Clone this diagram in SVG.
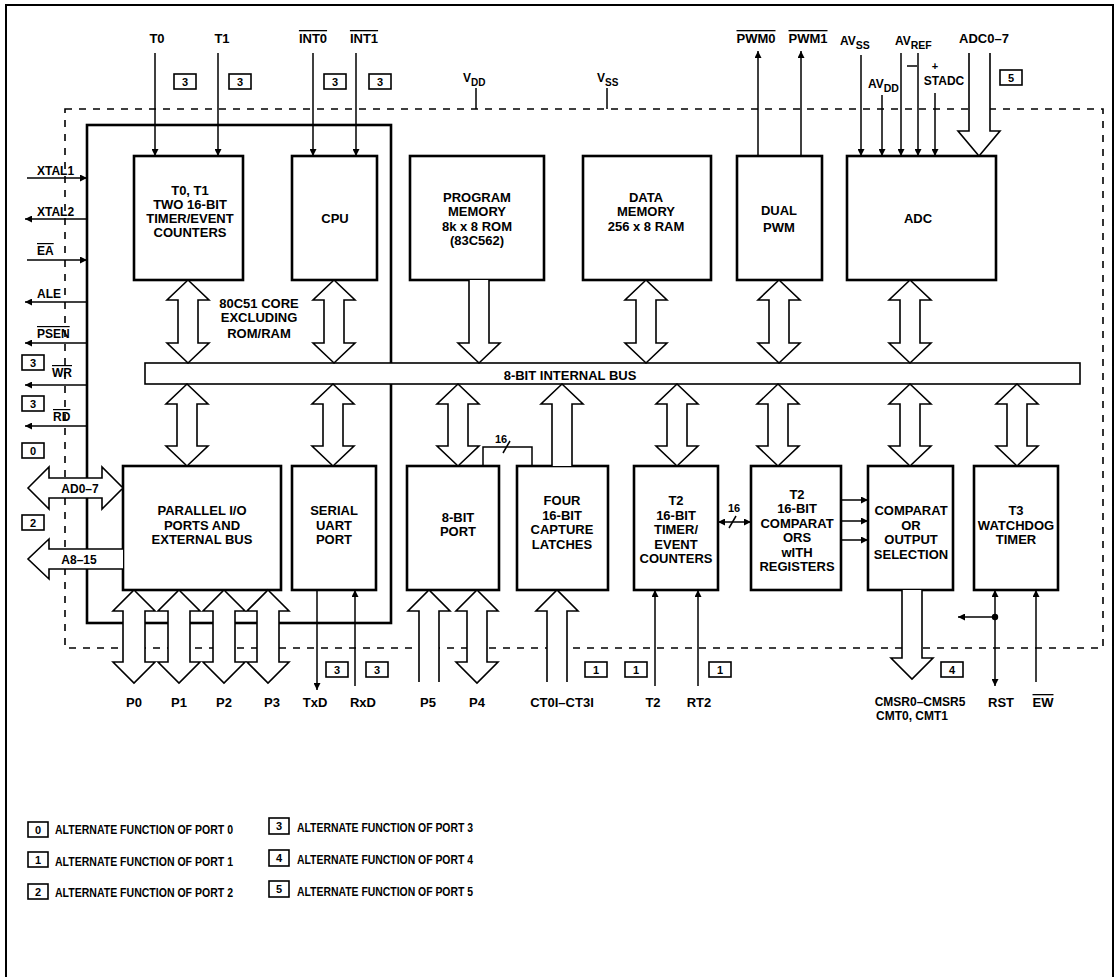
<svg xmlns="http://www.w3.org/2000/svg" width="1119" height="977" viewBox="0 0 1119 977">
<defs>
<style>
text{font-family:"Liberation Sans",Arial,sans-serif;font-weight:bold;fill:#000}
.t{font-size:13px;text-anchor:middle}
.s{font-size:12px}
.m{font-size:12px;text-anchor:middle}
.box{fill:#fff;stroke:#000;stroke-width:2.6}
.hol{fill:#fff;stroke:#000;stroke-width:1.6;stroke-linejoin:miter}
.ln{fill:none;stroke:#000;stroke-width:1.5}
.arr{fill:none;stroke:#000;stroke-width:1.5;marker-end:url(#ah)}
.arr2{fill:none;stroke:#000;stroke-width:1.5;marker-end:url(#ah);marker-start:url(#ah)}
.dash{fill:none;stroke:#000;stroke-width:1.6;stroke-dasharray:7 7}
.lb rect{fill:#fff;stroke:#000;stroke-width:1.6}
.lb text{font-size:11px;text-anchor:middle}
.ov{text-decoration:overline}
.lg{font-size:12.5px}
</style>
<marker id="ah" viewBox="0 0 10 10" refX="10" refY="5" markerWidth="9" markerHeight="7" orient="auto-start-reverse" markerUnits="userSpaceOnUse"><path d="M0 0 L10 5 L0 10 Z" fill="#000"/></marker>
</defs>
<rect width="1119" height="977" fill="#fff"/>
<rect x="6" y="5" width="1107" height="1000" fill="none" stroke="#000" stroke-width="2"/>

<g id="chip-boundary">
<rect x="65" y="109" width="1038" height="539" class="dash"/>
</g>
<g id="core">
<rect x="87" y="125" width="304" height="498" fill="none" stroke="#000" stroke-width="2.6"/>
<text class="t" x="259" y="308">80C51 CORE</text>
<text class="t" x="259" y="322">EXCLUDING</text>
<text class="t" x="259" y="338">ROM/RAM</text>
</g>

<g id="timers01"><rect class="box" x="134" y="156" width="109" height="124"/>
<text class="t" x="190" y="195">T0, T1</text><text class="t" x="190" y="209">TWO 16-BIT</text><text class="t" x="190" y="223">TIMER/EVENT</text><text class="t" x="190" y="237">COUNTERS</text></g>
<g id="cpu"><rect class="box" x="292" y="156" width="85" height="124"/><text class="t" x="335" y="223">CPU</text></g>
<g id="progmem"><rect class="box" x="410" y="156" width="134" height="124"/>
<text class="t" x="477" y="202">PROGRAM</text><text class="t" x="477" y="216">MEMORY</text><text class="t" x="477" y="231">8k x 8 ROM</text><text class="t" x="477" y="245">(83C562)</text></g>
<g id="datamem"><rect class="box" x="583" y="156" width="128" height="124"/>
<text class="t" x="646" y="202">DATA</text><text class="t" x="646" y="216">MEMORY</text><text class="t" x="646" y="231">256 x 8 RAM</text></g>
<g id="pwm"><rect class="box" x="737" y="156" width="85" height="124"/>
<text class="t" x="779" y="215">DUAL</text><text class="t" x="779" y="232">PWM</text></g>
<g id="adc"><rect class="box" x="847" y="156" width="149" height="124"/><text class="t" x="918" y="223">ADC</text></g>

<g id="bus"><rect x="145" y="363" width="935" height="21" fill="#fff" stroke="#000" stroke-width="1.6"/>
<text class="t" x="570" y="380">8-BIT INTERNAL BUS</text></g>

<g id="parallel"><rect class="box" x="123" y="466" width="158" height="124"/>
<text class="t" x="202" y="515">PARALLEL I/O</text><text class="t" x="202" y="530">PORTS AND</text><text class="t" x="202" y="544">EXTERNAL BUS</text></g>
<g id="serial"><rect class="box" x="292" y="466" width="84" height="124"/>
<text class="t" x="334" y="515">SERIAL</text><text class="t" x="334" y="530">UART</text><text class="t" x="334" y="544">PORT</text></g>
<g id="port8"><rect class="box" x="407" y="466" width="92" height="124"/>
<text class="t" x="458" y="522">8-BIT</text><text class="t" x="458" y="536">PORT</text></g>
<g id="capture"><rect class="box" x="517" y="466" width="91" height="124"/>
<text class="t" x="562" y="505">FOUR</text><text class="t" x="562" y="520">16-BIT</text><text class="t" x="562" y="534">CAPTURE</text><text class="t" x="562" y="549">LATCHES</text></g>
<g id="t2timer"><rect class="box" x="634" y="466" width="84" height="124"/>
<text class="t" x="676" y="505">T2</text><text class="t" x="676" y="520">16-BIT</text><text class="t" x="676" y="534">TIMER/</text><text class="t" x="676" y="549">EVENT</text><text class="t" x="676" y="563">COUNTERS</text></g>
<g id="t2comp"><rect class="box" x="751" y="466" width="90" height="124"/>
<text class="t" x="797" y="499">T2</text><text class="t" x="797" y="513">16-BIT</text><text class="t" x="797" y="528">COMPARAT</text><text class="t" x="797" y="542">ORS</text><text class="t" x="797" y="557">wITH</text><text class="t" x="797" y="571">REGISTERS</text></g>
<g id="compout"><rect class="box" x="868" y="466" width="85" height="124"/>
<text class="t" x="911" y="515">COMPARAT</text><text class="t" x="911" y="530">OR</text><text class="t" x="911" y="544">OUTPUT</text><text class="t" x="911" y="559">SELECTION</text></g>
<g id="t3"><rect class="box" x="974" y="466" width="84" height="124"/>
<text class="t" x="1016" y="515">T3</text><text class="t" x="1016" y="530">WATCHDOG</text><text class="t" x="1016" y="544">TIMER</text></g>

<g id="connectors">
<path class="hol" d="M188 280 L209 300 L198 300 L198 343 L209 343 L188 363 L167 343 L178 343 L178 300 L167 300 Z"/>
<path class="hol" d="M334 280 L355 300 L344 300 L344 343 L355 343 L334 363 L313 343 L324 343 L324 300 L313 300 Z"/>
<path class="hol" d="M469 280 L469 343 L458 343 L479 363 L500 343 L489 343 L489 280"/>
<path class="hol" d="M646 280 L667 300 L656 300 L656 343 L667 343 L646 363 L625 343 L636 343 L636 300 L625 300 Z"/>
<path class="hol" d="M779 280 L800 300 L789 300 L789 343 L800 343 L779 363 L758 343 L769 343 L769 300 L758 300 Z"/>
<path class="hol" d="M910 280 L931 300 L920 300 L920 343 L931 343 L910 363 L889 343 L900 343 L900 300 L889 300 Z"/>
<path class="hol" d="M187 384 L208 404 L197 404 L197 446 L208 446 L187 466 L166 446 L177 446 L177 404 L166 404 Z"/>
<path class="hol" d="M333 384 L354 404 L343 404 L343 446 L354 446 L333 466 L312 446 L323 446 L323 404 L312 404 Z"/>
<path class="hol" d="M458 384 L479 404 L468 404 L468 446 L479 446 L458 466 L437 446 L448 446 L448 404 L437 404 Z"/>
<path class="hol" d="M552 466 L552 404 L541 404 L562 384 L583 404 L572 404 L572 466"/>
<path class="hol" d="M677 384 L698 404 L687 404 L687 446 L698 446 L677 466 L656 446 L667 446 L667 404 L656 404 Z"/>
<path class="hol" d="M778 384 L799 404 L788 404 L788 446 L799 446 L778 466 L757 446 L768 446 L768 404 L757 404 Z"/>
<path class="hol" d="M910 384 L931 404 L920 404 L920 446 L931 446 L910 466 L889 446 L900 446 L900 404 L889 404 Z"/>
<path class="hol" d="M1017 384 L1038 404 L1027 404 L1027 446 L1038 446 L1017 466 L996 446 L1007 446 L1007 404 L996 404 Z"/>
<path class="hol" d="M134 590 L155 611 L145 611 L145 662 L155 662 L134 683 L113 662 L123 662 L123 611 L113 611 Z"/>
<path class="hol" d="M179 590 L200 611 L190 611 L190 662 L200 662 L179 683 L158 662 L168 662 L168 611 L158 611 Z"/>
<path class="hol" d="M224 590 L245 611 L235 611 L235 662 L245 662 L224 683 L203 662 L213 662 L213 611 L203 611 Z"/>
<path class="hol" d="M268 590 L289 611 L279 611 L279 662 L289 662 L268 683 L247 662 L257 662 L257 611 L247 611 Z"/>
<path class="hol" d="M419 682 L419 611 L408 611 L429 590 L450 611 L439 611 L439 682"/>
<path class="hol" d="M477 590 L498 611 L487 611 L487 662 L498 662 L477 683 L456 662 L467 662 L467 611 L456 611 Z"/>
<path class="hol" d="M547 682 L547 611 L536 611 L557 590 L578 611 L567 611 L567 682"/>
<path class="hol" d="M902 590 L902 658 L891 658 L912 679 L933 658 L922 658 L922 590"/>
<path class="hol" d="M28 488 L49 467 L49 478 L102 478 L102 467 L123 488 L102 509 L102 498 L49 498 L49 509 Z"/>
<path class="hol" d="M123 549 L49 549 L49 539 L28 559 L49 579 L49 569 L123 569"/>
<path class="hol" d="M969 53 L969 131 L958 131 L979 156 L1000 131 L990 131 L990 53"/>
<line class="arr" x1="155" y1="53" x2="155" y2="156"/>
<line class="arr" x1="218" y1="53" x2="218" y2="156"/>
<line class="arr" x1="313" y1="53" x2="313" y2="156"/>
<line class="arr" x1="356" y1="53" x2="356" y2="156"/>
<line class="ln" x1="476" y1="88" x2="476" y2="109"/>
<line class="ln" x1="607" y1="88" x2="607" y2="109"/>
<line class="arr" x1="758" y1="156" x2="758" y2="51"/>
<line class="arr" x1="801" y1="156" x2="801" y2="51"/>
<line class="arr" x1="861" y1="55" x2="861" y2="156"/>
<line class="arr" x1="882" y1="95" x2="882" y2="156"/>
<line class="arr" x1="901" y1="53" x2="901" y2="156"/>
<line class="arr" x1="918" y1="53" x2="918" y2="156"/>
<line class="ln" x1="907" y1="66" x2="917" y2="66"/>
<line class="arr" x1="935" y1="93" x2="935" y2="156"/>
<line class="arr" x1="27" y1="178" x2="87" y2="178"/>
<line class="arr" x1="87" y1="219" x2="25" y2="219"/>
<line class="arr" x1="27" y1="260" x2="87" y2="260"/>
<line class="arr" x1="87" y1="302" x2="25" y2="302"/>
<line class="arr" x1="87" y1="343" x2="25" y2="343"/>
<line class="arr" x1="87" y1="385" x2="25" y2="385"/>
<line class="arr" x1="87" y1="426" x2="25" y2="426"/>
<polyline class="ln" points="483,466 483,447 532,447 532,466"/>
<line class="ln" x1="503" y1="453" x2="510" y2="441"/>
<line class="arr2" x1="718" y1="522" x2="751" y2="522"/>
<line class="ln" x1="729" y1="528" x2="736" y2="516"/>
<line class="arr" x1="841" y1="500" x2="868" y2="500"/>
<line class="arr" x1="841" y1="521" x2="868" y2="521"/>
<line class="arr" x1="841" y1="540" x2="868" y2="540"/>
<line class="arr" x1="317" y1="590" x2="317" y2="690"/>
<line class="arr" x1="355" y1="686" x2="355" y2="590"/>
<line class="arr" x1="655" y1="686" x2="655" y2="590"/>
<line class="arr" x1="698" y1="686" x2="698" y2="590"/>
<line class="arr2" x1="995" y1="686" x2="995" y2="590"/>
<circle cx="995" cy="617" r="3.2" fill="#000"/>
<line class="arr" x1="995" y1="617" x2="958" y2="617"/>
<line class="arr" x1="1036" y1="682" x2="1036" y2="590"/>
</g>

<g id="signal-labels">
<text class="t" x="157" y="43">T0</text>
<text class="t" x="222" y="43">T1</text>
<text class="t ov" x="313" y="43">INT0</text>
<text class="t ov" x="364" y="43">INT1</text>
<text class="s" x="463" y="82">V<tspan font-size="10" dy="4">DD</tspan></text>
<text class="s" x="597" y="82">V<tspan font-size="10" dy="4">SS</tspan></text>
<text class="t ov" x="756" y="43">PWM0</text>
<text class="t ov" x="808" y="43">PWM1</text>
<text class="s" x="840" y="45">AV<tspan font-size="10.5" dy="4">SS</tspan></text>
<text class="s" x="868" y="88">AV<tspan font-size="10.5" dy="4">DD</tspan></text>
<text class="s" x="895" y="45">AV<tspan font-size="10.5" dy="4">REF</tspan></text>
<text font-size="11" text-anchor="middle" x="935" y="70">+</text>
<text class="m" x="944" y="85">STADC</text>
<text class="t" x="984" y="43">ADC0–7</text>
<text class="s" x="37" y="175">XTAL1</text>
<text class="s" x="37" y="216">XTAL2</text>
<text class="s ov" x="37" y="255">EA</text>
<text class="s" x="37" y="298">ALE</text>
<text class="s ov" x="37" y="338">PSEN</text>
<text class="s ov" x="52" y="377">WR</text>
<text class="s ov" x="53" y="421">RD</text>
<text class="m" x="80" y="493">AD0–7</text>
<text class="m" x="79" y="564">A8–15</text>
<text font-size="11" x="495" y="443">16</text>
<text font-size="11" text-anchor="middle" x="734" y="512">16</text>
<text class="t" x="134" y="707">P0</text>
<text class="t" x="179" y="707">P1</text>
<text class="t" x="224" y="707">P2</text>
<text class="t" x="272" y="707">P3</text>
<text class="t" x="315" y="707">TxD</text>
<text class="t" x="363" y="707">RxD</text>
<text class="t" x="428" y="707">P5</text>
<text class="t" x="477" y="707">P4</text>
<text class="t" x="562" y="707">CT0I–CT3I</text>
<text class="t" x="653" y="707">T2</text>
<text class="t" x="699" y="707">RT2</text>
<text class="m" x="920" y="706">CMSR0–CMSR5</text>
<text class="m" x="912" y="720">CMT0, CMT1</text>
<text class="t" x="1001" y="707">RST</text>
<text class="t ov" x="1043" y="707">EW</text>
</g>

<g id="port-tags">
<g class="lb"><rect x="174" y="74" width="22" height="15"/><text x="185" y="86">3</text></g>
<g class="lb"><rect x="229" y="74" width="22" height="15"/><text x="240" y="86">3</text></g>
<g class="lb"><rect x="324" y="74" width="22" height="15"/><text x="335" y="86">3</text></g>
<g class="lb"><rect x="369" y="74" width="22" height="15"/><text x="380" y="86">3</text></g>
<g class="lb"><rect x="1000" y="70" width="22" height="15"/><text x="1011" y="82">5</text></g>
<g class="lb"><rect x="22" y="355" width="22" height="15"/><text x="33" y="367">3</text></g>
<g class="lb"><rect x="22" y="396" width="22" height="15"/><text x="33" y="408">3</text></g>
<g class="lb"><rect x="22" y="443" width="22" height="15"/><text x="33" y="455">0</text></g>
<g class="lb"><rect x="22" y="515" width="22" height="15"/><text x="33" y="527">2</text></g>
<g class="lb"><rect x="326" y="662" width="22" height="15"/><text x="337" y="674">3</text></g>
<g class="lb"><rect x="366" y="662" width="22" height="15"/><text x="377" y="674">3</text></g>
<g class="lb"><rect x="585" y="662" width="22" height="15"/><text x="596" y="674">1</text></g>
<g class="lb"><rect x="625" y="662" width="22" height="15"/><text x="636" y="674">1</text></g>
<g class="lb"><rect x="709" y="662" width="22" height="15"/><text x="720" y="674">1</text></g>
<g class="lb"><rect x="941" y="662" width="22" height="15"/><text x="952" y="674">4</text></g>
</g>

<g id="legend">
<g class="lb"><rect x="28" y="822" width="20" height="15"/><text x="38" y="834">0</text></g>
<g class="lb"><rect x="28" y="852" width="20" height="15"/><text x="38" y="864">1</text></g>
<g class="lb"><rect x="28" y="884" width="20" height="15"/><text x="38" y="896">2</text></g>
<g class="lb"><rect x="269" y="818" width="20" height="16"/><text x="279" y="830">3</text></g>
<g class="lb"><rect x="269" y="850" width="20" height="16"/><text x="279" y="862">4</text></g>
<g class="lb"><rect x="269" y="881" width="20" height="16"/><text x="279" y="893">5</text></g>
<text class="lg" x="55" y="834" textLength="178" lengthAdjust="spacingAndGlyphs">ALTERNATE FUNCTION OF PORT 0</text>
<text class="lg" x="55" y="866" textLength="178" lengthAdjust="spacingAndGlyphs">ALTERNATE FUNCTION OF PORT 1</text>
<text class="lg" x="55" y="897" textLength="178" lengthAdjust="spacingAndGlyphs">ALTERNATE FUNCTION OF PORT 2</text>
<text class="lg" x="297" y="832" textLength="176" lengthAdjust="spacingAndGlyphs">ALTERNATE FUNCTION OF PORT 3</text>
<text class="lg" x="297" y="864" textLength="176" lengthAdjust="spacingAndGlyphs">ALTERNATE FUNCTION OF PORT 4</text>
<text class="lg" x="297" y="896" textLength="176" lengthAdjust="spacingAndGlyphs">ALTERNATE FUNCTION OF PORT 5</text>
</g>
</svg>
